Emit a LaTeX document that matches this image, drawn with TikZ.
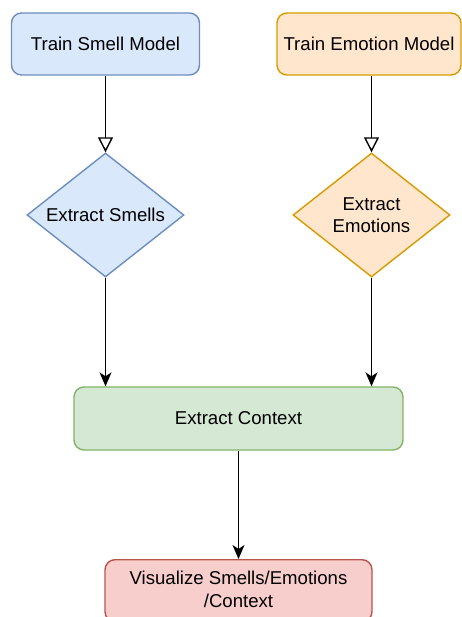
\documentclass[tikz,border=0pt]{standalone}
\usepackage{fontspec}
\setmainfont{Liberation Sans}
\usetikzlibrary{shapes.geometric,arrows.meta}
\definecolor{bluefill}{HTML}{DAE8FC}
\definecolor{bluedraw}{HTML}{6C8EBF}
\definecolor{orfill}{HTML}{FFE6CC}
\definecolor{ordraw}{HTML}{D79B00}
\definecolor{grfill}{HTML}{D5E8D4}
\definecolor{grdraw}{HTML}{82B366}
\definecolor{rdfill}{HTML}{F8CECC}
\definecolor{rddraw}{HTML}{B85450}
\tikzset{
  box/.style={rectangle, rounded corners=10pt, line width=1.4pt, inner sep=0pt, align=center,
    font=\fontsize{18.6}{22.5}\selectfont},
  dia/.style={diamond, aspect=1.27, line width=1.4pt, inner sep=0pt, align=center, minimum width=157pt, minimum height=124pt,
    font=\fontsize{18.6}{22.5}\selectfont},
  openarr/.style={line width=1.4pt, -{Triangle[open,length=15pt,width=15pt,line width=1.4pt]}},
  fillarr/.style={line width=1.4pt, -{Stealth[length=14pt,width=12pt,inset=4pt]}}
}
\begin{document}
\begin{tikzpicture}[x=1pt,y=-1pt]
\useasboundingbox (0,0) rectangle (462,617);
\node[box, fill=bluefill, draw=bluedraw, minimum width=188pt, minimum height=62pt] (tsm) at (105.5,44) {Train Smell Model};
\node[box, fill=orfill, draw=ordraw, minimum width=184pt, minimum height=62pt] (tem) at (369,44) {Train Emotion Model};
\node[dia, fill=bluefill, draw=bluedraw] (es) at (105.5,215) {Extract Smells};
\node[dia, fill=orfill, draw=ordraw] (ee) at (371.5,215) {Extract\\Emotions};
\node[box, fill=grfill, draw=grdraw, minimum width=329pt, minimum height=63pt] (ec) at (238.5,418.5) {Extract Context};
\node[box, fill=rdfill, draw=rddraw, minimum width=267pt, minimum height=62pt, anchor=north] (vis) at (238.5,559) {};
\node[font=\fontsize{18.6}{22.5}\selectfont, align=center] (vist) at (238.5,589.5) {Visualize Smells/Emotions\\/Context};
\draw[openarr] (tsm.south) -- (es.north);
\draw[openarr] (tem.south -| ee.north) -- (ee.north);
\draw[fillarr] (es.south) -- (es.south |- ec.north);
\draw[fillarr] (ee.south) -- (ee.south |- ec.north);
\draw[fillarr] (ec.south) -- (vis.north);
\end{tikzpicture}
\end{document}
